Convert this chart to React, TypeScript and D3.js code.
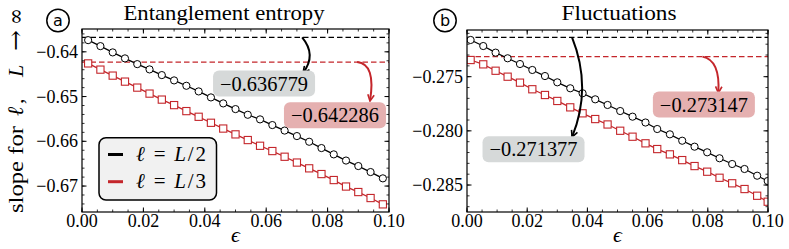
import React from 'react';
import * as d3 from 'd3';

// epsilon grid
const epsEnt = [0.002, 0.006, 0.010, 0.014, 0.018, 0.022, 0.026, 0.030, 0.034, 0.038, 0.042, 0.046, 0.050,
  0.054, 0.058, 0.062, 0.066, 0.070, 0.074, 0.078, 0.082, 0.086, 0.090, 0.094, 0.098];
const entHalf = [-0.63739, -0.63873, -0.64013, -0.64147, -0.64275, -0.64393, -0.64520, -0.64639, -0.64759,
  -0.64885, -0.65019, -0.65153, -0.65280, -0.65407, -0.65510, -0.65637, -0.65760, -0.65883, -0.66010,
  -0.66151, -0.66292, -0.66430, -0.66553, -0.66687, -0.66828];
const entThird = [-0.64259, -0.64398, -0.64532, -0.64666, -0.64800, -0.64934, -0.65068, -0.65191, -0.65325,
  -0.65452, -0.65586, -0.65715, -0.65845, -0.65972, -0.66100, -0.66218, -0.66345, -0.66475, -0.66604,
  -0.66732, -0.66866, -0.67011, -0.67134, -0.67268, -0.67409];

const epsFluc = [0.0012, 0.0054, 0.0095, 0.0135, 0.0176, 0.0217, 0.0259, 0.0300, 0.0343, 0.0384, 0.0426,
  0.0467, 0.0509, 0.0550, 0.0593, 0.0632, 0.0674, 0.0715, 0.0756, 0.0798, 0.0839, 0.0881, 0.0922, 0.0964, 0.0999];
const flucHalf = [-0.27161, -0.27217, -0.27278, -0.27330, -0.27383, -0.27438, -0.27494, -0.27552, -0.27607,
  -0.27653, -0.27709, -0.27761, -0.27817, -0.27869, -0.27923, -0.27983, -0.28032, -0.28091, -0.28146,
  -0.28198, -0.28253, -0.28306, -0.28352, -0.28414, -0.28463];
const flucThird = [-0.27346, -0.27386, -0.27445, -0.27500, -0.27555, -0.27616, -0.27669, -0.27724, -0.27783,
  -0.27838, -0.27891, -0.27941, -0.27999, -0.28054, -0.28115, -0.28168, -0.28217, -0.28270, -0.28325,
  -0.28377, -0.28433, -0.28484, -0.28537, -0.28599, -0.28654];

const entLimits = [-0.636779, -0.642286];
const flucLimits = [-0.271377, -0.273147];

const xTicks = [0, 0.02, 0.04, 0.06, 0.08, 0.1];
const entTicks = [-0.67, -0.66, -0.65, -0.64];
const flucTicks = [-0.285, -0.28, -0.275];

const BLACK = '#000000';
const RED = '#c4262b';
const SERIF = { fontFamily: "'Liberation Serif'" };
const fmtMinus = (s: string) => s.replace('-', '\u2212');

type Note = { text: string; color: string; fill: string; box: [number, number]; arrow: [number, number, number, number, number, number] };

const Panel = ({ id, left, right, top, bottom, eps, half, third, limits, yDomain, yTicks, yFmt, yMinor, title, titleX, titleLen, tag, tagX, notes, legend }: any) => {
  const x = d3.scaleLinear().domain([0, 0.1]).range([left, right]);
  const y = d3.scaleLinear().domain(yDomain).range([bottom, top]);
  const line = d3.line<number>().x((_, i) => x(eps[i])).y(d => y(d));
  const minorX = d3.range(0, 0.1001, 0.005);
  const minorY = d3.range(Math.ceil(yDomain[0] / yMinor) * yMinor, yDomain[1], yMinor);

  return (
    <g>
      <defs>
        <clipPath id={`clip-${id}`}>
          <rect x={left} y={top} width={right - left} height={bottom - top} />
        </clipPath>
      </defs>
      <text x={titleX - titleLen / 2} y={20} style={SERIF} fontSize={21} textLength={titleLen}
        lengthAdjust="spacingAndGlyphs">{title}</text>
      <circle cx={tagX} cy={20.5} r={11.2} fill="white" stroke="black" strokeWidth={1.5} />
      <text x={tagX} y={26} textAnchor="middle" style={{ fontFamily: "'DejaVu Sans'" }} fontSize={16}>{tag}</text>

      {/* reference limits */}
      {limits.map((v: number, i: number) => (
        <line key={i} x1={left} x2={right} y1={y(v)} y2={y(v)} stroke={i === 0 ? BLACK : RED}
          strokeWidth={1.3} strokeDasharray="5.5,3" />
      ))}

      <g clipPath={`url(#clip-${id})`}>
        <path d={line(half) || ''} fill="none" stroke={BLACK} strokeWidth={1.3} />
        {half.map((v: number, i: number) => (
          <circle key={i} cx={x(eps[i])} cy={y(v)} r={3.6} fill="white" stroke={BLACK} strokeWidth={1} />
        ))}
        <path d={line(third) || ''} fill="none" stroke={RED} strokeWidth={1.3} />
        {third.map((v: number, i: number) => (
          <rect key={i} x={x(eps[i]) - 3.6} y={y(v) - 3.6} width={7.2} height={7.2} fill="white" stroke={RED} strokeWidth={1.1} />
        ))}
      </g>

      {/* frame + ticks */}
      <rect x={left} y={top} width={right - left} height={bottom - top} fill="none" stroke="black" strokeWidth={1.2} />
      {minorX.map((t, i) => (
        <g key={i}>
          <line x1={x(t)} x2={x(t)} y1={bottom} y2={bottom - 2.5} stroke="black" strokeWidth={0.8} />
          <line x1={x(t)} x2={x(t)} y1={top} y2={top + 2.5} stroke="black" strokeWidth={0.8} />
        </g>
      ))}
      {minorY.map((t, i) => (
        <g key={i}>
          <line x1={left} x2={left + 2.5} y1={y(t)} y2={y(t)} stroke="black" strokeWidth={0.8} />
          <line x1={right} x2={right - 2.5} y1={y(t)} y2={y(t)} stroke="black" strokeWidth={0.8} />
        </g>
      ))}
      {xTicks.map((t, i) => (
        <g key={i}>
          <line x1={x(t)} x2={x(t)} y1={bottom} y2={bottom - 4.5} stroke="black" strokeWidth={1} />
          <line x1={x(t)} x2={x(t)} y1={top} y2={top + 4.5} stroke="black" strokeWidth={1} />
          <text x={x(t)} y={bottom + 15} textAnchor="middle" style={SERIF} fontSize={18}>{t.toFixed(2)}</text>
        </g>
      ))}
      {yTicks.map((t: number, i: number) => (
        <g key={i}>
          <line x1={left} x2={left + 4.5} y1={y(t)} y2={y(t)} stroke="black" strokeWidth={1} />
          <line x1={right} x2={right - 4.5} y1={y(t)} y2={y(t)} stroke="black" strokeWidth={1} />
          <text x={left - 4} y={y(t) + 6} textAnchor="end" style={SERIF} fontSize={18}>{fmtMinus(yFmt(t))}</text>
        </g>
      ))}
      <text x={(left + right) / 2} y={242} textAnchor="middle" style={SERIF} fontSize={22} fontStyle="italic">ϵ</text>

      {/* annotations */}
      {notes.map((n: Note, i: number) => {
        const [ax0, ay0, axc, ayc, ax1, ay1] = n.arrow;
        const cx = x(n.box[0]), cy = y(n.box[1]);
        return (
          <g key={i}>
            <path d={`M${x(ax0)},${y(ay0)} Q${x(axc)},${y(ayc)} ${x(ax1)},${y(ay1)}`} fill="none" stroke={n.color}
              strokeWidth={2} markerEnd={`url(#head-${n.color === RED ? 'red' : 'black'})`} />
            <rect x={cx - 51} y={cy - 13} width={102} height={26} rx={6} fill={n.fill} />
            <text x={cx - 44} y={cy + 7} style={SERIF} fontSize={20} textLength={88} lengthAdjust="spacingAndGlyphs">{n.text}</text>
          </g>
        );
      })}
      {legend}
    </g>
  );
};

export default function App() {
  const entNotes: Note[] = [
    { text: '\u22120.636779', color: BLACK, fill: '#d6d9d9', box: [0.0593, -0.6471],
      arrow: [0.0717, entLimits[0], 0.0765, -0.6407, 0.0720, -0.6447] },
    { text: '\u22120.642286', color: RED, fill: '#e5b0b0', box: [0.0824, -0.6542],
      arrow: [0.0896, entLimits[1], 0.0958, -0.6427, 0.0938, -0.6510] },
  ];
  const flucNotes: Note[] = [
    { text: '\u22120.271377', color: BLACK, fill: '#d6d9d9', box: [0.0221, -0.28169],
      arrow: [0.0349, flucLimits[0], 0.0416, -0.27604, 0.0349, -0.28057] },
    { text: '\u22120.273147', color: RED, fill: '#e5b0b0', box: [0.0787, -0.27757],
      arrow: [0.0782, flucLimits[1], 0.0842, -0.27346, 0.0835, -0.2765] },
  ];

  const legend = (
    <g style={SERIF} fontSize={21}>
      <rect x={99} y={137.7} width={117.5} height={62.3} rx={7} fill="#f1f1f1" stroke="black" strokeWidth={1.5} />
      <line x1={108} x2={123} y1={154.5} y2={154.5} stroke={BLACK} strokeWidth={3} />
      <text x={136} y={161} textLength={70} lengthAdjust="spacing"><tspan fontStyle="italic">ℓ</tspan> = <tspan fontStyle="italic">L</tspan>/2</text>
      <line x1={108} x2={123} y1={181.7} y2={181.7} stroke={RED} strokeWidth={3} />
      <text x={136} y={188.2} textLength={70} lengthAdjust="spacing"><tspan fontStyle="italic">ℓ</tspan> = <tspan fontStyle="italic">L</tspan>/3</text>
    </g>
  );

  return (
    <svg width={789} height={249} style={{ position: 'absolute', left: 0, top: 0, background: 'white' }}>
      <defs>
        {[['black', BLACK], ['red', RED]].map(([k, c]) => (
          <marker key={k} id={`head-${k}`} viewBox="0 0 10 10" refX={9} refY={5} markerWidth={4} markerHeight={4}
            orient="auto" markerUnits="strokeWidth">
            <path d="M1,1 L9,5 L1,9" fill="none" stroke={c} strokeWidth={2} />
          </marker>
        ))}
      </defs>
      {/* y label, rotated: x' = -pixel y */}
      <g transform="translate(23,0) rotate(-90)" style={SERIF} fontSize={22}>
        <text x={-213} y={0} textLength={87} lengthAdjust="spacingAndGlyphs">slope for</text>
        <text x={-116} y={0} fontStyle="italic">ℓ</text>
        <text x={-104} y={0}>,</text>
        <text x={-77} y={0} fontStyle="italic">L</text>
        <text x={-51} y={0} textLength={21} lengthAdjust="spacingAndGlyphs" style={{ fontFamily: "'DejaVu Serif'" }}>→</text>
        <text x={-25} y={0} textLength={17} lengthAdjust="spacingAndGlyphs" style={{ fontFamily: "'DejaVu Serif'" }}>∞</text>
      </g>
      <Panel id="a" left={82} right={389} top={29} bottom={212} eps={epsEnt} half={entHalf} third={entThird}
        limits={entLimits} yDomain={[-0.6758, -0.6349]} yTicks={entTicks} yFmt={(t: number) => t.toFixed(2)}
        yMinor={0.002} title="Entanglement entropy" titleX={224} titleLen={201} tag="a" tagX={58} notes={entNotes} legend={legend} />
      <Panel id="b" left={467} right={768} top={30} bottom={212} eps={epsFluc} half={flucHalf} third={flucThird}
        limits={flucLimits} yDomain={[-0.28749, -0.27069]} yTicks={flucTicks} yFmt={(t: number) => t.toFixed(3)}
        yMinor={0.001} title="Fluctuations" titleX={619} titleLen={115} tag="b" tagX={445} notes={flucNotes} legend={null} />
    </svg>
  );
}
